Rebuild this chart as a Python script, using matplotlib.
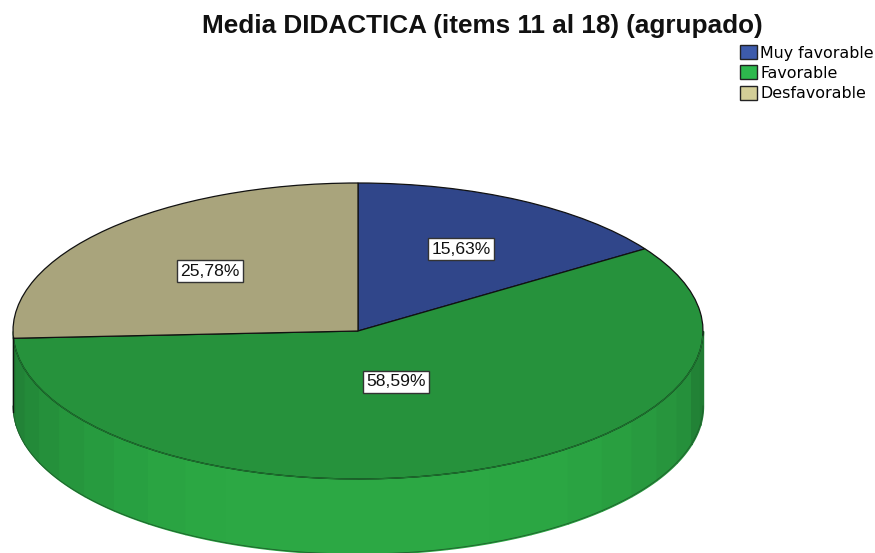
import matplotlib; matplotlib.use("Agg")
import matplotlib.pyplot as plt
from matplotlib.patches import Patch
import numpy as np

W, H = 875, 553

# values
categories = ["Muy favorable", "Favorable", "Desfavorable"]
values = [15.63, 58.59, 25.78]
value_labels = ["15,63%", "58,59%", "25,78%"]
top_colors = ["#30468a", "#26923c", "#a9a47c"]
legend_colors = ["#3d5bab", "#2db84d", "#d3ce97"]
# side wall facets, left to right, 7.5 degrees each
wall_colors = ["#217d33", "#228337", "#238a39", "#25903b", "#26963d", "#279b3f",
               "#28a041", "#2aa442", "#2ba743", "#2ca844", "#2ca844", "#2ca844",
               "#2ca844", "#2ca844", "#2ca844", "#2ba743", "#2ba643", "#2aa342",
               "#299f40", "#289a3f", "#27953d", "#25903b", "#228236", "#217c33"]

fig = plt.figure(figsize=(W / 100, H / 100), dpi=100, facecolor="white")
# ellipse box of the pie top, in pixels
ax = fig.add_axes([13 / W, (H - 479) / H, 690 / W, 296 / H])
depth = 75 / 148

# side wall
angles = np.linspace(-np.pi / 2, np.pi / 2, len(wall_colors) + 1)
for i, col in enumerate(wall_colors):
    t = np.linspace(angles[i], angles[i + 1], 12)
    x = np.sin(t)
    y = -np.cos(t)
    ax.fill_between(x, y, y - depth, facecolor=col, edgecolor=col, lw=1.0, clip_on=False, zorder=1)

t = np.linspace(-np.pi / 2, np.pi / 2, 300)
ax.plot(np.sin(t), -np.cos(t) - depth, color="#1f5f2c", lw=0.6, clip_on=False, zorder=2)

# pie top
ax.pie(values, startangle=90, counterclock=False, radius=1, colors=top_colors,
       wedgeprops=dict(edgecolor="#111111", linewidth=0.9, clip_on=False, zorder=3))
ax.set_aspect("auto")
ax.set_xlim(-1, 1)
ax.set_ylim(-1, 1)

# front rim is dark green, not black
t = np.linspace(np.radians(-87), np.radians(88), 300)
ax.plot(np.sin(t), -np.cos(t), color="#1d7a30", lw=0.8, clip_on=False, zorder=4)
ax.plot([-1, -1], [-0.04, -0.04 - depth], color="#111111", lw=1.0, clip_on=False, zorder=4)

fig.text(482 / W, 1 - 26 / H, "Media DIDACTICA (items 11 al 18) (agrupado)",
         ha="center", va="center", fontsize=18.8, fontweight="bold",
         family="Liberation Sans", color="#111111")

# value labels, same order as values
label_x = [461, 396, 210]
label_y = [249, 382, 271]
for lx, ly, txt in zip(label_x, label_y, value_labels):
    fig.text(lx / W, 1 - ly / H, txt, ha="center", va="center", fontsize=12.6,
             family="Liberation Sans", color="#111111", zorder=6,
             bbox=dict(boxstyle="square,pad=0.2", fc="white", ec="#333333", lw=1))

handles = [Patch(facecolor=c, edgecolor="#222222", lw=1) for c in legend_colors]
fig.legend(handles, categories, loc="upper left", bbox_to_anchor=(740 / W, 1 - 45 / H),
           frameon=False, borderpad=0, borderaxespad=0,
           handlelength=1.08, handleheight=1.0, handletextpad=0.2, labelspacing=0.3,
           prop=dict(family="DejaVu Sans", size=11.4))

fig.savefig("out.png", dpi=100)
plt.close()
